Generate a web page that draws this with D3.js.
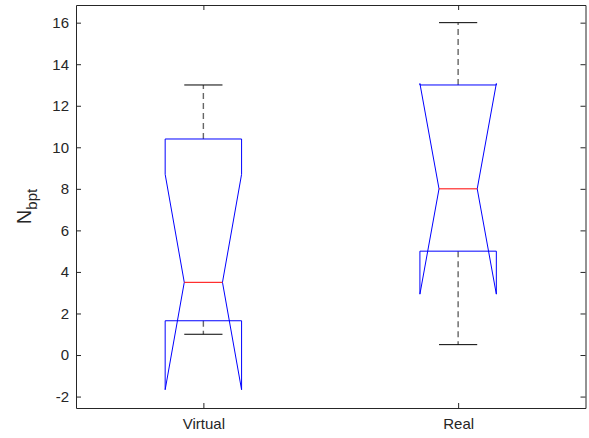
<!DOCTYPE html>
<html>
<head>
<meta charset="utf-8">
<script src="https://cdn.jsdelivr.net/npm/d3@7"></script>
<style>
	body { margin: 0; background: #fff; }
	svg { display: block; font-family: "Liberation Sans", Arial, sans-serif; }
</style>
</head>
<body>
<svg id="chart" width="589" height="438"></svg>
<script>
// Chart data
const categories = ["Virtual", "Real"];
const medians = [3.5, 8.0];
const q1 = [1.65, 5.0];
const q3 = [10.4, 13.0];
const notchLow = [-1.67, 2.93];
const notchHigh = [8.7, 13.07];
const whiskerLow = [1.0, 0.5];
const whiskerHigh = [13.0, 16.0];
const yTicks = [-2, 0, 2, 4, 6, 8, 10, 12, 14, 16];

/**
 * Notched box plot (MATLAB style)
 */
function boxChart() {

	let margin = { top: 5, right: 3.5, bottom: 30, left: 76 };
	let width = 589;
	let height = 438;
	let boxWidth = 0.3;
	let xDomain = [0.5, 2.5];
	let yDomain = [-2.55, 16.85];
	let axisColor = "#262626";

	function my(svg) {
		let plotW = width - margin.left - margin.right;
		let plotH = height - margin.top - margin.bottom;

		let xScale = d3.scaleLinear().domain(xDomain).range([0, plotW]);
		let yScale = d3.scaleLinear().domain(yDomain).range([plotH, 0]);

		let data = categories.map(function(c, i) {
			return {
				key: c,
				pos: i + 1,
				median: medians[i],
				q1: q1[i],
				q3: q3[i],
				nlo: notchLow[i],
				nhi: notchHigh[i],
				lo: whiskerLow[i],
				hi: whiskerHigh[i]
			};
		});

		let g = svg.append("g")
			.attr("transform", "translate(" + margin.left + "," + margin.top + ")");

		// Whiskers (dashed)
		let half = boxWidth / 2;
		let boxes = g.selectAll("g.box")
			.data(data)
			.enter()
			.append("g")
			.attr("class", "box");

		boxes.append("line")
			.attr("x1", function(d) { return xScale(d.pos); })
			.attr("x2", function(d) { return xScale(d.pos); })
			.attr("y1", function(d) { return yScale(d.q3); })
			.attr("y2", function(d) { return yScale(d.hi); })
			.attr("stroke", "#666")
			.attr("stroke-width", 1.4)
			.attr("stroke-dasharray", "6,4");

		boxes.append("line")
			.attr("x1", function(d) { return xScale(d.pos); })
			.attr("x2", function(d) { return xScale(d.pos); })
			.attr("y1", function(d) { return yScale(d.q1); })
			.attr("y2", function(d) { return yScale(d.lo); })
			.attr("stroke", "#666")
			.attr("stroke-width", 1.4)
			.attr("stroke-dasharray", "6,4");

		// Whisker caps
		["hi", "lo"].forEach(function(k) {
			boxes.append("line")
				.attr("x1", function(d) { return xScale(d.pos - half / 2); })
				.attr("x2", function(d) { return xScale(d.pos + half / 2); })
				.attr("y1", function(d) { return yScale(d[k]); })
				.attr("y2", function(d) { return yScale(d[k]); })
				.attr("stroke", "#000")
				.attr("stroke-width", 1);
		});

		// Notched box outline
		let line = d3.line()
			.x(function(p) { return xScale(p[0]); })
			.y(function(p) { return yScale(p[1]); });

		boxes.append("path")
			.attr("d", function(d) {
				let l = d.pos - half, r = d.pos + half;
				let nl = d.pos - half / 2, nr = d.pos + half / 2;
				return line([
					[l, d.q1], [l, d.nlo], [nl, d.median], [l, d.nhi], [l, d.q3],
					[r, d.q3], [r, d.nhi], [nr, d.median], [r, d.nlo], [r, d.q1]
				]) + "Z";
			})
			.attr("fill", "none")
			.attr("stroke", "#0000ff")
			.attr("stroke-width", 1);

		// Median
		boxes.append("line")
			.attr("x1", function(d) { return xScale(d.pos - half / 2); })
			.attr("x2", function(d) { return xScale(d.pos + half / 2); })
			.attr("y1", function(d) { return yScale(d.median); })
			.attr("y2", function(d) { return yScale(d.median); })
			.attr("stroke", "#ff0000")
			.attr("stroke-width", 1);

		// Axes, ticks pointing inward on all four sides
		g.append("g")
			.call(d3.axisLeft(yScale).tickValues(yTicks).tickSize(-5).tickSizeOuter(0).tickPadding(7)
				.tickFormat(function(v) { return String(v); }));
		g.append("g")
			.attr("transform", "translate(" + plotW + ",0)")
			.call(d3.axisRight(yScale).tickValues(yTicks).tickSize(-5).tickSizeOuter(0).tickFormat(""));
		g.append("g")
			.attr("transform", "translate(0," + plotH + ")")
			.call(d3.axisBottom(xScale).tickValues([1, 2]).tickSize(-5).tickSizeOuter(0).tickPadding(10)
				.tickFormat(function(v) { return categories[v - 1]; }));
		g.append("g")
			.call(d3.axisTop(xScale).tickValues([1, 2]).tickSize(-5).tickSizeOuter(0).tickFormat(""));

		g.selectAll(".domain, .tick line").attr("stroke", axisColor);
		g.selectAll(".tick text")
			.attr("fill", axisColor)
			.style("font-size", "15px")
			.style("font-family", "'Liberation Sans', Arial, sans-serif");

		// Y label with subscript
		let ylabel = svg.append("text")
			.attr("transform", "translate(31," + (margin.top + plotH / 2) + ") rotate(-90)")
			.attr("text-anchor", "middle")
			.attr("fill", axisColor)
			.style("font-size", "20px");
		ylabel.append("tspan").text("N");
		ylabel.append("tspan")
			.attr("dy", 6)
			.style("font-size", "15px")
			.text("bpt");
	}

	my.width = function(_) {
		if (!arguments.length) return width;
		width = _;
		return my;
	};

	my.height = function(_) {
		if (!arguments.length) return height;
		height = _;
		return my;
	};

	return my;
}

d3.select("#chart").call(boxChart());
</script>
</body>
</html>
